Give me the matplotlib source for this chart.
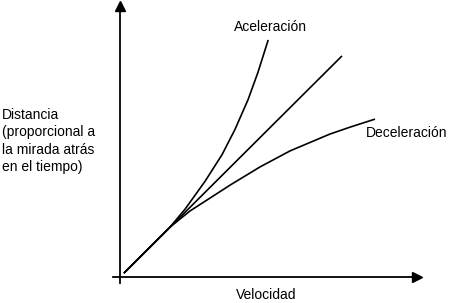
import numpy as np
import matplotlib
matplotlib.use('Agg')
import matplotlib.pyplot as plt

plt.rcParams['font.family'] = ['Liberation Sans', 'DejaVu Sans']

# curvas (velocidad, distancia)
v_lin = [0.13, 7.4]
d_lin = [0.14, 8.01]

v_acel = [0.13, 1.67, 2.17, 2.83, 3.40, 3.83, 4.27, 4.60, 4.94]
d_acel = [0.14, 1.81, 2.46, 3.46, 4.43, 5.34, 6.43, 7.42, 8.59]

v_decel = [0.13, 1.67, 2.33, 3.67, 4.67, 5.67, 7.0, 7.67, 8.5]
d_decel = [0.14, 1.81, 2.39, 3.33, 3.99, 4.57, 5.18, 5.43, 5.72]

lbl_acel = "Aceleración"
lbl_decel = "Deceleración"
lbl_x = "Velocidad"
lbl_y = "Distancia\n(proporcional a\nla mirada atrás\nen el tiempo)"

W, H = 450, 303
fig = plt.figure(figsize=(W / 100, H / 100), dpi=100)
ax = fig.add_axes([113 / W, 20 / H, 304 / W, 277 / H])
ax.set_xlim(-7 / 30, 297 / 30)
ax.set_ylim(-6 / 27.6, 271 / 27.6)

for s in ['top', 'right']:
    ax.spines[s].set_visible(False)
ax.spines['left'].set_position(('data', 0))
ax.spines['bottom'].set_position(('data', 0))
ax.spines['left'].set_linewidth(1.3)
ax.spines['bottom'].set_linewidth(1.3)
ax.set_xticks([])
ax.set_yticks([])

# flechas de los ejes
ax.plot(1, 0, '>k', ms=7, transform=ax.get_yaxis_transform(), clip_on=False)
ax.plot(0, 1, '^k', ms=7, transform=ax.get_xaxis_transform(), clip_on=False)

for v, d in [(v_lin, d_lin), (v_acel, d_acel), (v_decel, d_decel)]:
    ax.plot(v, d, color='k', lw=1.2, solid_capstyle='butt',
            solid_joinstyle='round')

fig.text(270 / W, 1 - 27 / H, lbl_acel, fontsize=10, ha='center', va='center')
fig.text(407 / W, 1 - 133 / H, lbl_decel, fontsize=10, ha='center', va='center')
fig.text(266 / W, 1 - 295 / H, lbl_x, fontsize=10, ha='center', va='center')
fig.text(2 / W, 1 - 141 / H, lbl_y, fontsize=10, ha='left', va='center',
         linespacing=1.3)

fig.savefig('out.png', dpi=100)
